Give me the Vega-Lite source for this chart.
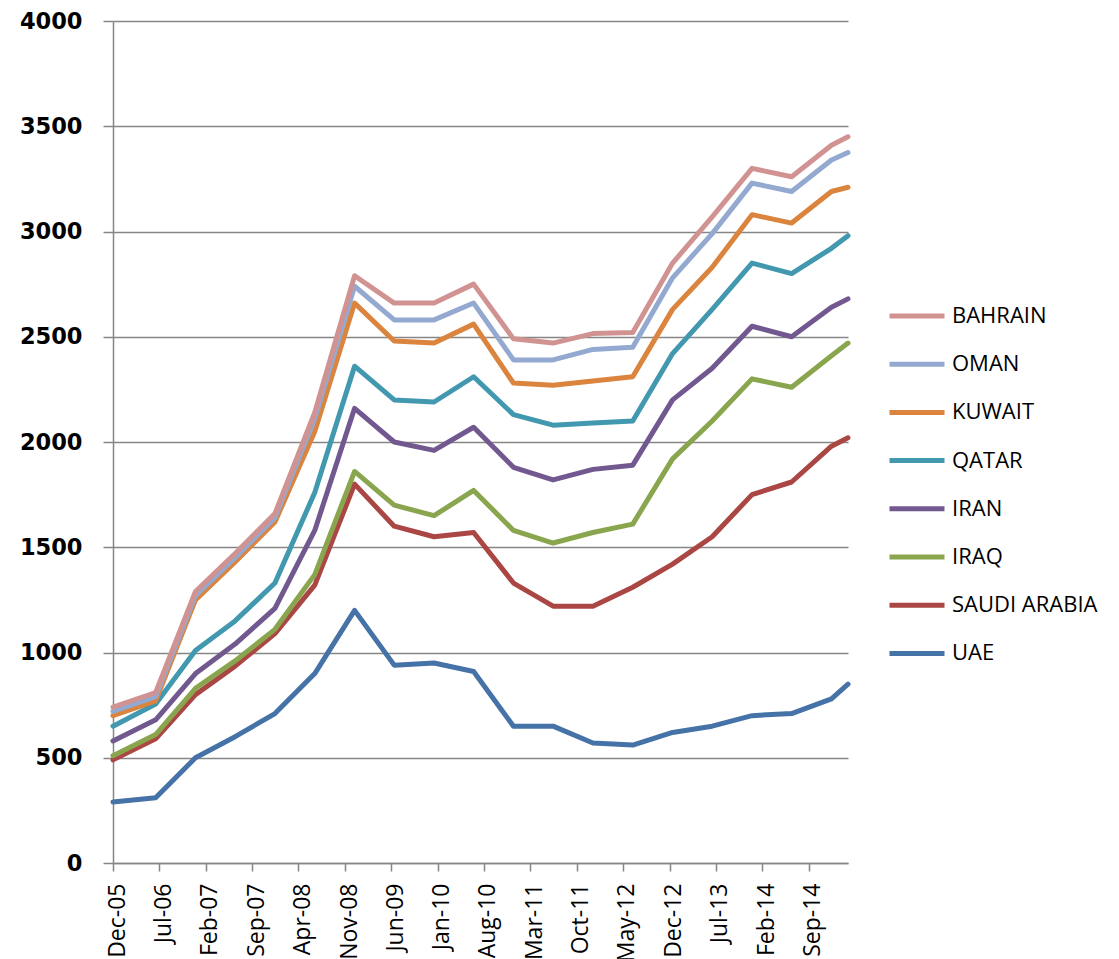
{
  "$schema": "https://vega.github.io/schema/vega-lite/v6.json",
  "width": 735,
  "height": 842,
  "autosize": {"type": "none"},
  "padding": {"left": 113, "top": 21, "right": 271, "bottom": 96},
  "background": "white",
  "datasets": {
    "rows": [
      {"country":"UAE","date":"2005-12-01","value":290},{"country":"UAE","date":"2006-06-15","value":310},{"country":"UAE","date":"2006-12-15","value":500},{"country":"UAE","date":"2007-06-15","value":600},{"country":"UAE","date":"2007-12-15","value":710},{"country":"UAE","date":"2008-06-15","value":900},{"country":"UAE","date":"2008-12-15","value":1200},{"country":"UAE","date":"2009-06-15","value":940},{"country":"UAE","date":"2009-12-15","value":950},{"country":"UAE","date":"2010-06-15","value":910},{"country":"UAE","date":"2010-12-15","value":650},{"country":"UAE","date":"2011-06-15","value":650},{"country":"UAE","date":"2011-12-15","value":570},{"country":"UAE","date":"2012-06-15","value":560},{"country":"UAE","date":"2012-12-15","value":620},{"country":"UAE","date":"2013-06-15","value":650},{"country":"UAE","date":"2013-12-15","value":700},{"country":"UAE","date":"2014-06-15","value":710},{"country":"UAE","date":"2014-12-15","value":780},{"country":"UAE","date":"2015-03-01","value":850},
      {"country":"SAUDI ARABIA","date":"2005-12-01","value":490},{"country":"SAUDI ARABIA","date":"2006-06-15","value":590},{"country":"SAUDI ARABIA","date":"2006-12-15","value":800},{"country":"SAUDI ARABIA","date":"2007-06-15","value":935},{"country":"SAUDI ARABIA","date":"2007-12-15","value":1090},{"country":"SAUDI ARABIA","date":"2008-06-15","value":1320},{"country":"SAUDI ARABIA","date":"2008-12-15","value":1800},{"country":"SAUDI ARABIA","date":"2009-06-15","value":1600},{"country":"SAUDI ARABIA","date":"2009-12-15","value":1550},{"country":"SAUDI ARABIA","date":"2010-06-15","value":1570},{"country":"SAUDI ARABIA","date":"2010-12-15","value":1330},{"country":"SAUDI ARABIA","date":"2011-06-15","value":1220},{"country":"SAUDI ARABIA","date":"2011-12-15","value":1220},{"country":"SAUDI ARABIA","date":"2012-06-15","value":1310},{"country":"SAUDI ARABIA","date":"2012-12-15","value":1420},{"country":"SAUDI ARABIA","date":"2013-06-15","value":1550},{"country":"SAUDI ARABIA","date":"2013-12-15","value":1750},{"country":"SAUDI ARABIA","date":"2014-06-15","value":1810},{"country":"SAUDI ARABIA","date":"2014-12-15","value":1980},{"country":"SAUDI ARABIA","date":"2015-03-01","value":2020},
      {"country":"IRAQ","date":"2005-12-01","value":510},{"country":"IRAQ","date":"2006-06-15","value":610},{"country":"IRAQ","date":"2006-12-15","value":830},{"country":"IRAQ","date":"2007-06-15","value":960},{"country":"IRAQ","date":"2007-12-15","value":1110},{"country":"IRAQ","date":"2008-06-15","value":1370},{"country":"IRAQ","date":"2008-12-15","value":1860},{"country":"IRAQ","date":"2009-06-15","value":1700},{"country":"IRAQ","date":"2009-12-15","value":1650},{"country":"IRAQ","date":"2010-06-15","value":1770},{"country":"IRAQ","date":"2010-12-15","value":1580},{"country":"IRAQ","date":"2011-06-15","value":1520},{"country":"IRAQ","date":"2011-12-15","value":1570},{"country":"IRAQ","date":"2012-06-15","value":1610},{"country":"IRAQ","date":"2012-12-15","value":1920},{"country":"IRAQ","date":"2013-06-15","value":2100},{"country":"IRAQ","date":"2013-12-15","value":2300},{"country":"IRAQ","date":"2014-06-15","value":2260},{"country":"IRAQ","date":"2014-12-15","value":2410},{"country":"IRAQ","date":"2015-03-01","value":2470},
      {"country":"IRAN","date":"2005-12-01","value":580},{"country":"IRAN","date":"2006-06-15","value":680},{"country":"IRAN","date":"2006-12-15","value":900},{"country":"IRAN","date":"2007-06-15","value":1040},{"country":"IRAN","date":"2007-12-15","value":1210},{"country":"IRAN","date":"2008-06-15","value":1580},{"country":"IRAN","date":"2008-12-15","value":2160},{"country":"IRAN","date":"2009-06-15","value":2000},{"country":"IRAN","date":"2009-12-15","value":1960},{"country":"IRAN","date":"2010-06-15","value":2070},{"country":"IRAN","date":"2010-12-15","value":1880},{"country":"IRAN","date":"2011-06-15","value":1820},{"country":"IRAN","date":"2011-12-15","value":1870},{"country":"IRAN","date":"2012-06-15","value":1890},{"country":"IRAN","date":"2012-12-15","value":2200},{"country":"IRAN","date":"2013-06-15","value":2350},{"country":"IRAN","date":"2013-12-15","value":2550},{"country":"IRAN","date":"2014-06-15","value":2500},{"country":"IRAN","date":"2014-12-15","value":2640},{"country":"IRAN","date":"2015-03-01","value":2680},
      {"country":"QATAR","date":"2005-12-01","value":650},{"country":"QATAR","date":"2006-06-15","value":755},{"country":"QATAR","date":"2006-12-15","value":1010},{"country":"QATAR","date":"2007-06-15","value":1150},{"country":"QATAR","date":"2007-12-15","value":1330},{"country":"QATAR","date":"2008-06-15","value":1760},{"country":"QATAR","date":"2008-12-15","value":2360},{"country":"QATAR","date":"2009-06-15","value":2200},{"country":"QATAR","date":"2009-12-15","value":2190},{"country":"QATAR","date":"2010-06-15","value":2310},{"country":"QATAR","date":"2010-12-15","value":2130},{"country":"QATAR","date":"2011-06-15","value":2080},{"country":"QATAR","date":"2011-12-15","value":2090},{"country":"QATAR","date":"2012-06-15","value":2100},{"country":"QATAR","date":"2012-12-15","value":2420},{"country":"QATAR","date":"2013-06-15","value":2630},{"country":"QATAR","date":"2013-12-15","value":2850},{"country":"QATAR","date":"2014-06-15","value":2800},{"country":"QATAR","date":"2014-12-15","value":2920},{"country":"QATAR","date":"2015-03-01","value":2980},
      {"country":"KUWAIT","date":"2005-12-01","value":700},{"country":"KUWAIT","date":"2006-06-15","value":770},{"country":"KUWAIT","date":"2006-12-15","value":1250},{"country":"KUWAIT","date":"2007-06-15","value":1430},{"country":"KUWAIT","date":"2007-12-15","value":1620},{"country":"KUWAIT","date":"2008-06-15","value":2050},{"country":"KUWAIT","date":"2008-12-15","value":2660},{"country":"KUWAIT","date":"2009-06-15","value":2480},{"country":"KUWAIT","date":"2009-12-15","value":2470},{"country":"KUWAIT","date":"2010-06-15","value":2560},{"country":"KUWAIT","date":"2010-12-15","value":2280},{"country":"KUWAIT","date":"2011-06-15","value":2270},{"country":"KUWAIT","date":"2011-12-15","value":2290},{"country":"KUWAIT","date":"2012-06-15","value":2310},{"country":"KUWAIT","date":"2012-12-15","value":2630},{"country":"KUWAIT","date":"2013-06-15","value":2830},{"country":"KUWAIT","date":"2013-12-15","value":3080},{"country":"KUWAIT","date":"2014-06-15","value":3040},{"country":"KUWAIT","date":"2014-12-15","value":3190},{"country":"KUWAIT","date":"2015-03-01","value":3210},
      {"country":"OMAN","date":"2005-12-01","value":720},{"country":"OMAN","date":"2006-06-15","value":790},{"country":"OMAN","date":"2006-12-15","value":1270},{"country":"OMAN","date":"2007-06-15","value":1450},{"country":"OMAN","date":"2007-12-15","value":1640},{"country":"OMAN","date":"2008-06-15","value":2110},{"country":"OMAN","date":"2008-12-15","value":2740},{"country":"OMAN","date":"2009-06-15","value":2580},{"country":"OMAN","date":"2009-12-15","value":2580},{"country":"OMAN","date":"2010-06-15","value":2660},{"country":"OMAN","date":"2010-12-15","value":2390},{"country":"OMAN","date":"2011-06-15","value":2390},{"country":"OMAN","date":"2011-12-15","value":2440},{"country":"OMAN","date":"2012-06-15","value":2450},{"country":"OMAN","date":"2012-12-15","value":2780},{"country":"OMAN","date":"2013-06-15","value":2990},{"country":"OMAN","date":"2013-12-15","value":3230},{"country":"OMAN","date":"2014-06-15","value":3190},{"country":"OMAN","date":"2014-12-15","value":3340},{"country":"OMAN","date":"2015-03-01","value":3375},
      {"country":"BAHRAIN","date":"2005-12-01","value":740},{"country":"BAHRAIN","date":"2006-06-15","value":810},{"country":"BAHRAIN","date":"2006-12-15","value":1290},{"country":"BAHRAIN","date":"2007-06-15","value":1470},{"country":"BAHRAIN","date":"2007-12-15","value":1660},{"country":"BAHRAIN","date":"2008-06-15","value":2140},{"country":"BAHRAIN","date":"2008-12-15","value":2790},{"country":"BAHRAIN","date":"2009-06-15","value":2660},{"country":"BAHRAIN","date":"2009-12-15","value":2660},{"country":"BAHRAIN","date":"2010-06-15","value":2750},{"country":"BAHRAIN","date":"2010-12-15","value":2490},{"country":"BAHRAIN","date":"2011-06-15","value":2470},{"country":"BAHRAIN","date":"2011-12-15","value":2515},{"country":"BAHRAIN","date":"2012-06-15","value":2520},{"country":"BAHRAIN","date":"2012-12-15","value":2850},{"country":"BAHRAIN","date":"2013-06-15","value":3070},{"country":"BAHRAIN","date":"2013-12-15","value":3300},{"country":"BAHRAIN","date":"2014-06-15","value":3260},{"country":"BAHRAIN","date":"2014-12-15","value":3410},{"country":"BAHRAIN","date":"2015-03-01","value":3450}
    ]
  },
  "data": {"name": "rows"},
  "mark": {"type": "line", "strokeWidth": 5, "strokeJoin": "round", "strokeCap": "round", "clip": false},
  "encoding": {
    "x": {
      "field": "date",
      "type": "temporal",
      "scale": {
        "type": "utc",
        "nice": false,
        "domain": [
          {"year": 2005, "month": 12, "date": 1, "utc": true},
          {"year": 2015, "month": 3, "date": 1, "utc": true}
        ]
      },
      "axis": {
        "title": null,
        "labelExpr": "utcFormat(datum.value, '%b-%y')",
        "labelAngle": -90,
        "labelAlign": "right",
        "labelBaseline": "middle",
        "labelOffset": 4,
        "labelPadding": 12,
        "labelFont": "Open Sans",
        "labelFontSize": 23,
        "labelColor": "#000000",
        "labelOverlap": false,
        "labelFlush": false,
        "tickSize": 8,
        "tickColor": "#868686",
        "tickWidth": 1.5,
        "domainColor": "#868686",
        "domainWidth": 1.5,
        "grid": false,
        "values": [
          {"year": 2005, "month": 12, "date": 1, "utc": true},
          {"year": 2006, "month": 7, "date": 1, "utc": true},
          {"year": 2007, "month": 2, "date": 1, "utc": true},
          {"year": 2007, "month": 9, "date": 1, "utc": true},
          {"year": 2008, "month": 4, "date": 1, "utc": true},
          {"year": 2008, "month": 11, "date": 1, "utc": true},
          {"year": 2009, "month": 6, "date": 1, "utc": true},
          {"year": 2010, "month": 1, "date": 1, "utc": true},
          {"year": 2010, "month": 8, "date": 1, "utc": true},
          {"year": 2011, "month": 3, "date": 1, "utc": true},
          {"year": 2011, "month": 10, "date": 1, "utc": true},
          {"year": 2012, "month": 5, "date": 1, "utc": true},
          {"year": 2012, "month": 12, "date": 1, "utc": true},
          {"year": 2013, "month": 7, "date": 1, "utc": true},
          {"year": 2014, "month": 2, "date": 1, "utc": true},
          {"year": 2014, "month": 9, "date": 1, "utc": true}
        ]
      }
    },
    "y": {
      "field": "value",
      "type": "quantitative",
      "scale": {"domain": [0, 4000], "nice": false, "zero": true},
      "axis": {
        "title": null,
        "values": [0, 500, 1000, 1500, 2000, 2500, 3000, 3500, 4000],
        "format": "d",
        "labelFont": "DejaVu Sans",
        "labelFontWeight": "bold",
        "labelFontSize": 22.5,
        "labelColor": "#000000",
        "labelPadding": 21,
        "tickSize": 10,
        "tickColor": "#868686",
        "tickWidth": 1.5,
        "domainColor": "#868686",
        "domainWidth": 1.5,
        "grid": true,
        "gridColor": "#868686",
        "gridWidth": 1.5
      }
    },
    "color": {
      "field": "country",
      "type": "nominal",
      "sort": ["BAHRAIN", "OMAN", "KUWAIT", "QATAR", "IRAN", "IRAQ", "SAUDI ARABIA", "UAE"],
      "scale": {
        "domain": ["BAHRAIN", "OMAN", "KUWAIT", "QATAR", "IRAN", "IRAQ", "SAUDI ARABIA", "UAE"],
        "range": ["#D19392", "#93A9CF", "#DB843D", "#4198AF", "#71588F", "#89A54E", "#AA4643", "#4572A7"]
      },
      "legend": {
        "title": null,
        "orient": "none",
        "legendX": 774,
        "legendY": 281,
        "symbolType": "stroke",
        "symbolSize": 3025,
        "symbolStrokeWidth": 5,
        "clipHeight": 28,
        "rowPadding": 20.2,
        "labelOffset": 5,
        "labelFont": "Open Sans",
        "labelFontSize": 22,
        "labelColor": "#000000",
        "labelLimit": 300
      }
    }
  },
  "config": {
    "view": {"stroke": null}
  }
}
